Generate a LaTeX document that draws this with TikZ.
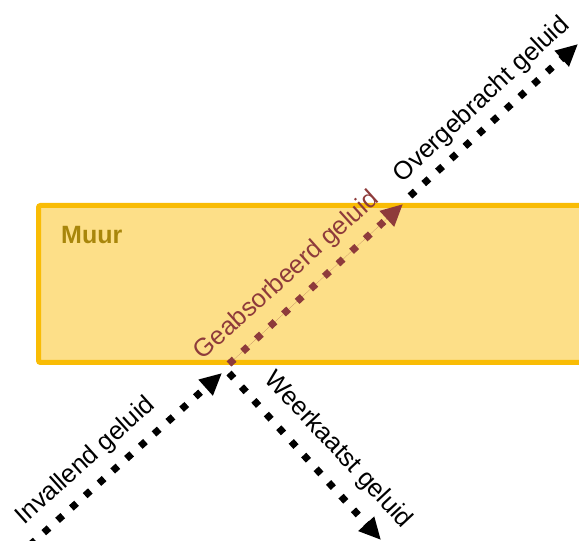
\documentclass[tikz,border=0pt]{standalone}
\usepackage{fontspec}
\setmainfont{Liberation Sans}
\usetikzlibrary{arrows.meta}
\definecolor{wallfill}{HTML}{FDDF88}
\definecolor{walledge}{HTML}{F9BC05}
\definecolor{walltext}{HTML}{A8860B}
\definecolor{absred}{HTML}{8E3B3B}
\tikzset{
  x=1pt,y=1pt,
  wave/.style={line width=7pt, dash pattern=on 7pt off 11.5pt, -{Triangle[length=22pt,width=20pt]}},
  lbl/.style={font=\fontsize{25.5}{28}\selectfont, inner sep=0pt}
}
\begin{document}
\begin{tikzpicture}
\useasboundingbox (0,0) rectangle (579,541);
\node[draw=walledge, fill=wallfill, line width=5pt, rounded corners=2pt, minimum width=560pt, minimum height=157pt, anchor=south west, inner sep=0pt, outer sep=0pt] (muur) at (38.5,178.5) {};
\node[font=\fontsize{25}{28}\selectfont\bfseries, text=walltext, anchor=west, inner sep=0pt] (muurlbl) at (61,306) {Muur};
\coordinate (inA) at (30,-4);
\coordinate (inB) at (222,168);
\coordinate (refA) at (229,168);
\coordinate (refB) at (381,1);
\coordinate (absA) at (229,177);
\coordinate (absB) at (403,337);
\coordinate (trA) at (410,345);
\coordinate (trB) at (578,497);
\draw[wave] (inA) -- (inB);
\draw[wave] (refA) -- (refB);
\draw[wave, draw=absred, fill=absred] (absA) -- (absB);
\draw[wave] (trA) -- (trB);
\node[lbl, rotate=42] (inlbl) at (86,80) {Invallend geluid};
\node[lbl, rotate=-47] (reflbl) at (338,91) {Weerkaatst geluid};
\node[lbl, rotate=42, text=absred] (abslbl) at (287,265) {Geabsorbeerd geluid};
\node[lbl, rotate=43] (trlbl) at (482,441) {Overgebracht geluid};
\end{tikzpicture}
\end{document}
